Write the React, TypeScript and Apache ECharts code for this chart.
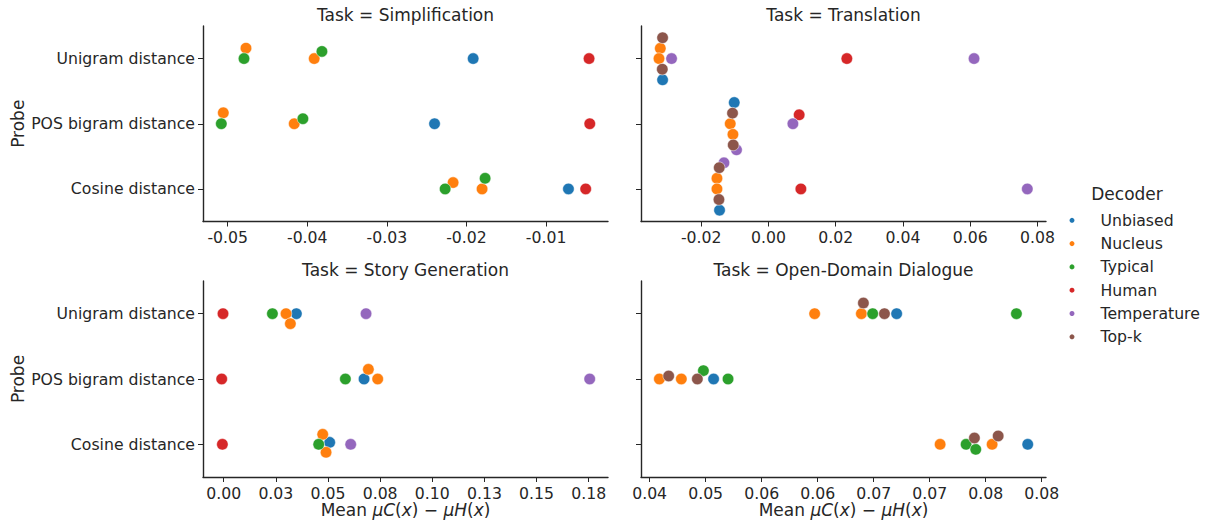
import React, { useEffect, useRef } from "react";
import * as echarts from "echarts";

const TASKS = ["Simplification", "Translation", "Story Generation", "Open-Domain Dialogue"];
const PROBES = ["Unigram distance", "POS bigram distance", "Cosine distance"];
const DECODERS = ["Unbiased", "Nucleus", "Typical", "Human", "Temperature", "Top-k"];
const COLORS = ["#1f77b4", "#ff7f0e", "#2ca02c", "#d62728", "#9467bd", "#8c564b"];

// [probe index, decoder, mean value, strip jitter (category units)]
const simplificationPoints: [number, string, number, number][] = [
  [0, "Nucleus", -0.0477, -0.16],
  [0, "Typical", -0.04795, 0],
  [0, "Nucleus", -0.03913, 0],
  [0, "Typical", -0.03816, -0.11],
  [0, "Unbiased", -0.01916, 0],
  [0, "Human", -0.0046, 0],
  [1, "Nucleus", -0.05055, -0.168],
  [1, "Typical", -0.0508, 0],
  [1, "Nucleus", -0.04164, 0],
  [1, "Typical", -0.04055, -0.077],
  [1, "Unbiased", -0.02401, 0],
  [1, "Human", -0.00451, 0],
  [2, "Typical", -0.02268, 0],
  [2, "Nucleus", -0.02168, -0.097],
  [2, "Typical", -0.01766, -0.163],
  [2, "Nucleus", -0.01804, 0],
  [2, "Unbiased", -0.00719, 0],
  [2, "Human", -0.00502, 0],
];

const translationPoints: [number, string, number, number][] = [
  [0, "Top-k", -0.0315, -0.32],
  [0, "Nucleus", -0.03218, -0.157],
  [0, "Nucleus", -0.03257, 0],
  [0, "Temperature", -0.02883, 0],
  [0, "Top-k", -0.03159, 0.163],
  [0, "Unbiased", -0.0315, 0.326],
  [0, "Human", 0.0233, 0],
  [0, "Temperature", 0.06113, 0],
  [1, "Unbiased", -0.01019, -0.326],
  [1, "Top-k", -0.0107, -0.163],
  [1, "Nucleus", -0.01138, 0],
  [1, "Nucleus", -0.01058, 0.163],
  [1, "Top-k", -0.01049, 0.326],
  [1, "Temperature", -0.00951, 0.4],
  [1, "Human", 0.00912, -0.137],
  [1, "Temperature", 0.00725, 0],
  [2, "Temperature", -0.01325, -0.4],
  [2, "Top-k", -0.01465, -0.326],
  [2, "Nucleus", -0.01533, -0.163],
  [2, "Nucleus", -0.01533, 0],
  [2, "Top-k", -0.01474, 0.163],
  [2, "Unbiased", -0.01456, 0.326],
  [2, "Human", 0.00963, 0],
  [2, "Temperature", 0.07697, 0],
];

const storyPoints: [number, string, number, number][] = [
  [0, "Human", -0.00034, 0],
  [0, "Typical", 0.02335, 0],
  [0, "Nucleus", 0.02988, 0],
  [0, "Unbiased", 0.03484, 0],
  [0, "Nucleus", 0.03196, 0.153],
  [0, "Temperature", 0.06824, 0],
  [1, "Human", -0.00096, 0],
  [1, "Typical", 0.05834, 0],
  [1, "Unbiased", 0.06729, 0],
  [1, "Nucleus", 0.06936, -0.148],
  [1, "Nucleus", 0.07384, 0],
  [1, "Temperature", 0.17549, 0],
  [2, "Human", -0.00064, 0],
  [2, "Typical", 0.04555, 0],
  [2, "Nucleus", 0.04747, -0.153],
  [2, "Unbiased", 0.05082, -0.03],
  [2, "Nucleus", 0.04907, 0.122],
  [2, "Temperature", 0.06089, 0],
];

const dialoguePoints: [number, string, number, number][] = [
  [0, "Nucleus", 0.05973, 0],
  [0, "Top-k", 0.06408, -0.163],
  [0, "Nucleus", 0.0639, 0],
  [0, "Typical", 0.06491, 0],
  [0, "Top-k", 0.06596, 0],
  [0, "Unbiased", 0.06705, 0],
  [0, "Typical", 0.07774, 0],
  [1, "Nucleus", 0.04587, 0],
  [1, "Top-k", 0.0467, -0.046],
  [1, "Nucleus", 0.04783, 0],
  [1, "Top-k", 0.04926, 0],
  [1, "Typical", 0.0498, -0.128],
  [1, "Unbiased", 0.05071, 0],
  [1, "Typical", 0.052, 0],
  [2, "Nucleus", 0.07093, 0],
  [2, "Typical", 0.07325, 0],
  [2, "Top-k", 0.07399, -0.097],
  [2, "Typical", 0.07411, 0.077],
  [2, "Nucleus", 0.07557, 0],
  [2, "Top-k", 0.07611, -0.128],
  [2, "Unbiased", 0.07875, 0],
];

const PANEL_POINTS = [simplificationPoints, translationPoints, storyPoints, dialoguePoints];

// x-axis limits and tick values / labels per panel
const X_LIMITS: [number, number][] = [
  [-0.0531, -0.00222],
  [-0.03792, 0.08253],
  [-0.00993, 0.18426],
  [0.04423, 0.08038],
];
const X_TICKS = [
  [-0.05, -0.04, -0.03, -0.02, -0.01],
  [-0.02, 0, 0.02, 0.04, 0.06, 0.08],
  [0, 0.025, 0.05, 0.075, 0.1, 0.125, 0.15, 0.175],
  [0.045, 0.05, 0.055, 0.06, 0.065, 0.07, 0.075, 0.08],
];
const X_TICK_LABELS = [
  ["-0.05", "-0.04", "-0.03", "-0.02", "-0.01"],
  ["-0.02", "0.00", "0.02", "0.04", "0.06", "0.08"],
  ["0.00", "0.03", "0.05", "0.08", "0.10", "0.13", "0.15", "0.18"],
  ["0.04", "0.05", "0.06", "0.06", "0.07", "0.07", "0.08", "0.08"],
];

const FONT = "DejaVu Sans";
const INK = "#262626";
const TICK_FS = 15.7;
const TITLE_FS = 17;

const GRIDS = [
  { left: 203, top: 26, width: 405, height: 195.5 },
  { left: 641, top: 26, width: 405, height: 195.5 },
  { left: 203, top: 281, width: 405, height: 196 },
  { left: 641, top: 281, width: 405, height: 196 },
];

function buildOption() {
  const xAxis = X_TICKS.map((ticks, i) => ({
    type: "value",
    gridIndex: i,
    min: X_LIMITS[i][0],
    max: X_LIMITS[i][1],
    axisLine: { show: true, onZero: false, lineStyle: { color: INK, width: 1.4 } },
    axisTick: { show: true, length: 5, lineStyle: { color: INK, width: 1 }, customValues: ticks },
    splitLine: { show: false },
    axisLabel: {
      show: true,
      customValues: ticks,
      margin: 8,
      color: INK,
      fontSize: TICK_FS,
      fontFamily: FONT,
      formatter: (v: number) => {
        const k = ticks.findIndex((t) => Math.abs(t - v) < 1e-9);
        return k >= 0 ? X_TICK_LABELS[i][k] : "";
      },
    },
    name: i >= 2 ? "Mean {i|μC}({i|x}) − {i|μH}({i|x})" : "",
    nameLocation: "middle",
    nameGap: 24,
    nameTextStyle: {
      color: INK,
      fontSize: TITLE_FS,
      fontFamily: FONT,
      rich: { i: { fontStyle: "italic", fontSize: TITLE_FS, fontFamily: FONT, color: INK } },
    },
  }));

  const yAxis = GRIDS.map((_, i) => ({
    type: "value",
    gridIndex: i,
    min: -0.5,
    max: 2.5,
    inverse: true,
    axisLine: { show: true, onZero: false, lineStyle: { color: INK, width: 1.4 } },
    axisTick: { show: true, length: 5, lineStyle: { color: INK, width: 1 }, customValues: [0, 1, 2] },
    splitLine: { show: false },
    axisLabel: {
      show: i % 2 === 0,
      customValues: [0, 1, 2],
      margin: 8,
      color: INK,
      fontSize: TICK_FS,
      fontFamily: FONT,
      formatter: (v: number) => PROBES[Math.round(v)] ?? "",
    },
    name: i % 2 === 0 ? "Probe" : "",
    nameLocation: "middle",
    nameGap: 177,
    nameTextStyle: { color: INK, fontSize: TITLE_FS, fontFamily: FONT },
  }));

  const series: any[] = [];
  PANEL_POINTS.forEach((points, p) => {
    DECODERS.forEach((dec, d) => {
      const pts = points.filter((pt) => pt[1] === dec);
      if (!pts.length) return;
      series.push({
        type: "scatter",
        name: dec,
        xAxisIndex: p,
        yAxisIndex: p,
        symbol: "circle",
        symbolSize: 11.5,
        itemStyle: { color: COLORS[d], borderColor: "#ffffff", borderWidth: 0.5, opacity: 1 },
        emphasis: { disabled: true },
        data: pts.map((pt) => [pt[2], pt[0] + pt[3]]),
      });
    });
  });

  const graphic: any[] = GRIDS.map((g, i) => ({
    type: "text",
    x: g.left + g.width / 2,
    y: 15,
    style: {
      text: "Task = " + TASKS[i],
      align: "center",
      verticalAlign: "middle",
      textAlign: "center",
      textVerticalAlign: "middle",
      fontSize: TITLE_FS,
      fontFamily: FONT,
      fill: INK,
    },
  }));
  graphic[2].y = 270;
  graphic[3].y = 270;
  graphic.push({
    type: "text",
    x: 1127,
    y: 194,
    style: {
      text: "Decoder",
      align: "center",
      verticalAlign: "middle",
      textAlign: "center",
      textVerticalAlign: "middle",
      fontSize: TITLE_FS,
      fontFamily: FONT,
      fill: INK,
    },
  });

  return {
    animation: false,
    backgroundColor: "#ffffff",
    textStyle: { fontFamily: FONT },
    grid: GRIDS.map((g) => ({ ...g, containLabel: false, outerBoundsMode: "none" })),
    xAxis,
    yAxis,
    legend: {
      data: DECODERS.map((name) => ({ name, icon: "circle" })),
      orient: "vertical",
      left: 1067.5,
      top: 211.3,
      padding: 0,
      itemWidth: 7,
      itemHeight: 7,
      itemGap: 5.3,
      selectedMode: false,
      textStyle: { color: INK, fontSize: TICK_FS, fontFamily: FONT, lineHeight: 18, padding: [0, 0, 0, 20] },
    },
    graphic,
    series,
  };
}

export default function App() {
  const ref = useRef<HTMLDivElement>(null);
  useEffect(() => {
    const chart = echarts.init(ref.current!, null, { renderer: "svg" });
    chart.setOption(buildOption() as any);
    return () => chart.dispose();
  }, []);
  return (
    <div
      ref={ref}
      style={{ position: "fixed", left: 0, top: 0, width: 1207, height: 526, background: "#fff" }}
    />
  );
}
